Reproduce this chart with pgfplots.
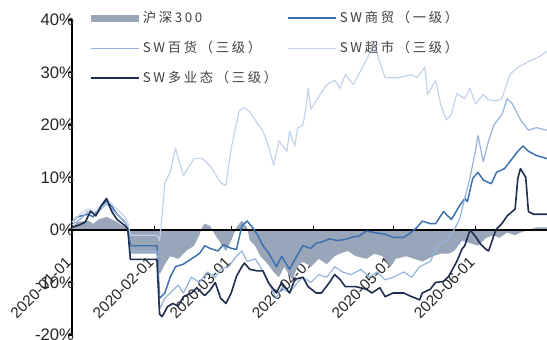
\documentclass[border=0pt]{standalone}
\usepackage{fontspec}
\setmainfont{Liberation Sans}
\newfontfamily\cjk[LetterSpace=20]{Noto Sans CJK SC}
\usepackage{pgfplots}
\pgfplotsset{compat=1.18}
\usetikzlibrary{calc}
\definecolor{hs}{HTML}{99A6BA}
\definecolor{sm}{HTML}{3A6FB0}
\definecolor{bh}{HTML}{94B4DC}
\definecolor{cs}{HTML}{C3D3EA}
\definecolor{dy}{HTML}{1F2D4F}
\begin{document}
\begin{tikzpicture}
\begin{axis}[name=ax, scale only axis, width=356.25pt, height=236.25pt,
 xmin=0, xmax=179, ymin=-20, ymax=40,
 axis x line=middle, axis y line=left,
 axis line style={-, black, line width=0.8pt},
 hide obscured x ticks=false, hide obscured y ticks=false,
 xtick={0,31,60,91,121,152},
 xticklabels={2020-01-01,2020-02-01,2020-03-01,2020-04-01,2020-05-01,2020-06-01},
 xtick align=inside, ytick align=outside, major tick length=3pt,
 tick style={black, line width=0.8pt},
 ytick={-20,-10,0,10,20,30,40},
 yticklabel={\pgfmathprintnumber[assume math mode=true]{\tick}\%},
 xticklabel style={rotate=45, anchor=east, font=\fontsize{11.5}{11.5}\selectfont, text=black!85},
 xticklabel shift=20pt,
 yticklabel style={font=\fontsize{12.5}{12.5}\selectfont, text=black!85},
 yticklabel shift=-8pt,
 legend columns=2, legend cell align=left,
 legend style={at={(rel axis cs:0.03,1.045)}, anchor=north west, draw=none, fill=none,
   font=\cjk\fontsize{10}{10}\selectfont, text=black!75, row sep=8.5pt,
   /tikz/every even column/.append style={column sep=6pt}},
 legend image code/.code={\draw[#1] (0pt,0pt) -- (36pt,0pt);},
 every axis plot/.append style={line join=round},
 clip=false]
% 沪深300
\addplot[fill=hs, draw=none, legend image code/.code={\fill[hs] (0pt,-2.6pt) rectangle (36pt,2.6pt);}] coordinates {
(0,0) (0,0.5) (2,1.5) (6,1.8) (8,1.2) (10,2) (13,2.5) (15,2) (17,1.5) (20,0.5) (21,0) (22,-4.5) (32,-4.5)
(33,-8.5) (35,-6.5) (37,-5) (40,-5.5) (43,-4) (46,-3) (48,-1) (49,0.5) (50,1.2) (52,0.8) (54,-1) (56,-2.5)
(58,-4) (60,-2) (62,0.5) (64,1.8) (66,0.5) (67,-2) (69,-3) (71,-5) (73,-6) (76,-8) (78,-9) (80,-7) (83,-9.5)
(85,-7) (87,-6) (90,-7) (93,-5.5) (96,-6.5) (99,-5) (101,-4.5) (104,-4) (107,-5) (111,-5.5) (114,-4.5)
(117,-5) (120,-7) (122,-5.5) (126,-5) (129,-5.5) (132,-6) (136,-5) (139,-4.5) (142,-4.5) (144,-4) (147,-2)
(150,-2.5) (153,-3) (156,-1.5) (159,-1) (161,-1.5) (164,-0.5) (167,-1) (169,-0.5) (172,0) (175,0.5) (179,0.5) (179,0)
} \closedcycle;
\addlegendentry{沪深300}
\addplot[black, line width=0.8pt, forget plot] coordinates {(0,0) (179,0)};
% SW商贸（一级）
\addplot[sm, line width=1.1pt] coordinates {
(0,1.5) (2,2.5) (6,3) (8,2.5) (10,4) (13,5.5) (15,4.5) (17,3) (20,1.5) (21,0.5) (22,-3) (32,-3)
(33,-13) (35,-12) (37,-9) (39,-7) (42,-6.5) (45,-5.5) (48,-4.5) (50,-3) (52,-3.5) (55,-4) (57,-2.8)
(60,-3.5) (62,-3.7) (64,0.8) (66,1.7) (68,0.5) (70,-1) (72,-3) (74,-4.3) (77,-7) (79,-5) (82,-7.5)
(84,-5.6) (87,-3) (90,-3.5) (92,-2.5) (94,-2.3) (97,-1.7) (100,-2) (103,-1.8) (106,-1.3) (108,-1.2)
(111,-0.2) (114,-0.5) (118,-0.8) (121,-1.4) (125,-1.4) (128,-0.4) (130,0.5) (132,1.7) (135,1.2) (137,1.2)
(140,3.5) (143,2) (146,4.6) (148,6) (149,5.4) (151,9.8) (153,11) (155,9.5) (158,8.8) (160,11) (163,11.7)
(165,13) (168,15) (170,16) (172,15) (175,14.2) (179,13.6)
};
\addlegendentry{SW商贸（一级）}
% SW百货（三级）
\addplot[bh, line width=0.9pt] coordinates {
(0,1) (3,2) (6,3.5) (9,3) (13,5) (15,4) (17,3) (20,1.5) (21,0.5) (22,-4) (32,-4)
(33,-15) (35,-13) (37,-12) (40,-10.5) (42,-12) (45,-9) (48,-10) (51,-8) (54,-9) (56,-7.5) (59,-7)
(62,-5) (64,-4) (66,-6) (69,-5.5) (71,-7) (74,-10) (77,-13) (79,-11) (82,-12) (85,-10) (87,-9) (90,-10)
(93,-8.5) (96,-9) (99,-7) (102,-8) (105,-8.5) (109,-7.5) (112,-9) (115,-8) (118,-9.5) (121,-9) (125,-8)
(128,-9) (131,-7) (135,-6) (138,-3) (141,-2) (144,0) (146,2) (148,6) (150,10) (152,15) (153,18) (155,13)
(157,17) (159,20) (162,22) (164,25) (166,24) (169,21) (172,19) (175,19.5) (179,19)
};
\addlegendentry{SW百货（三级）}
% SW超市（三级）
\addplot[cs, line width=0.9pt] coordinates {
(0,1.5) (3,3) (6,4) (9,3.5) (13,6) (15,5) (17,4) (20,2.5) (21,1.5) (22,-1) (32,-1)
(33,-2) (34,3) (35,9) (37,11) (39,15.6) (40,13.6) (42,10.4) (44,12) (46,13.6) (49,13.6) (52,12.3)
(56,9) (58,8.5) (60,15.6) (63,22.7) (65,23.3) (67,22.5) (69,21) (72,18.8) (74,16) (76,12.3) (78,17)
(81,15) (82,18.8) (84,16) (85,19.4) (87,20) (88,22.7) (89,27) (90,23) (92,24.6) (96,27.7) (99,28.5)
(101,27) (103,29.6) (106,27.7) (110,31.5) (114,35.4) (116,32) (118,29) (123,29) (128,29.6) (130,29)
(133,31) (134,25.8) (137,28.5) (139,23.8) (141,21) (143,22) (145,26) (148,25) (150,27) (152,24)
(155,25.8) (157,24.8) (160,24.6) (162,25) (165,29.6) (168,31) (170,31.5) (173,32.3) (176,33) (179,34)
};
\addlegendentry{SW超市（三级）}
% SW多业态（三级）
\addplot[dy, line width=1.2pt] coordinates {
(0,0.5) (3,1) (5,1.5) (7,3.6) (9,2.7) (11,4.6) (13,6) (15,3.5) (17,2) (20,0.8) (21,0.2) (22,-5.6) (32,-5.6)
(33,-16) (34,-16.5) (36,-14.6) (38,-14) (40,-14.5) (42,-12.7) (45,-12) (47,-11) (50,-12.5) (52,-11.5)
(54,-10) (56,-13) (58,-14) (60,-12) (62,-8.8) (64,-7) (65,-6.3) (67,-7.5) (70,-7.8) (72,-7.8) (74,-10)
(77,-12) (79,-10) (82,-12) (84,-9.4) (87,-9) (89,-10.8) (92,-12) (94,-12) (97,-10) (99,-8.5) (101,-9.4)
(103,-10.8) (107,-10.8) (111,-11.3) (113,-12) (116,-11) (118,-12.7) (121,-12) (125,-12) (128,-12.7)
(131,-13.3) (132,-12) (135,-11.3) (137,-10) (140,-9.8) (142,-8.8) (145,-6) (147,-3.6) (148,-3) (150,0)
(152,-1.2) (154,-2.7) (156,-3.7) (157,-4) (159,-1) (160,0.2) (162,1.2) (164,2.7) (167,4) (168,9.8)
(169,11.7) (171,10) (172,3.5) (174,3) (179,3)
};
\addlegendentry{SW多业态（三级）}
\end{axis}
\pgfresetboundingbox
\useasboundingbox ($(ax.south west)+(-54pt,-3.75pt)$) rectangle ($(ax.north east)+(0pt,15pt)$);
\end{tikzpicture}
\end{document}
